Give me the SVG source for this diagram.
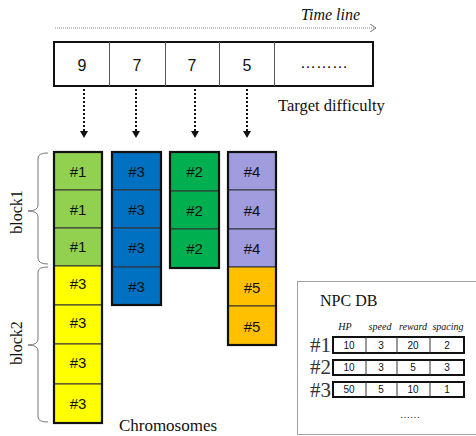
<svg xmlns="http://www.w3.org/2000/svg" width="476" height="436" viewBox="0 0 476 436">
<defs>
<style>
.ser{font-family:'Liberation Serif','DejaVu Serif',serif;fill:#111}
.san{font-family:'Liberation Sans',Arial,sans-serif;fill:#111}
.num{font-size:16px;text-anchor:middle}
.cell{stroke:#333;stroke-width:1}
.cnum{font-family:'Liberation Sans',Arial,sans-serif;font-size:15px;text-anchor:middle;fill:#111}
.outer{fill:none;stroke:#111;stroke-width:2.2}
.dotarrow{stroke:#111;stroke-width:2;stroke-dasharray:2 2;fill:none}
.brace{fill:none;stroke:#777;stroke-width:1}
.hdr{font-family:'Liberation Serif','DejaVu Serif',serif;font-style:italic;font-size:10px;text-anchor:middle;fill:#111}
.tv{font-family:'Liberation Sans',Arial,sans-serif;font-size:10px;text-anchor:middle;fill:#111}
.rowl{font-family:'Liberation Serif','DejaVu Serif',serif;font-size:21px;fill:#333}
</style>
<marker id="ah" markerWidth="8" markerHeight="8" refX="6" refY="4" orient="auto" markerUnits="userSpaceOnUse">
<path d="M0,0 L6,4 L0,8" fill="none" stroke="#777" stroke-width="1"/>
</marker>
</defs>
<rect width="476" height="436" fill="#fff"/>

<g id="timeline">
<line x1="55" y1="28" x2="376" y2="28" stroke="#888" stroke-width="1" stroke-dasharray="1 1" marker-end="url(#ah)"/>
<text x="301" y="20" class="ser" font-size="16" font-style="italic">Time line</text>
</g>

<g id="target-difficulty">
<rect x="54" y="42" width="319" height="44" fill="#fff" stroke="#111" stroke-width="2"/>
<line x1="109.5" y1="42" x2="109.5" y2="86" stroke="#555"/>
<line x1="165.5" y1="42" x2="165.5" y2="86" stroke="#555"/>
<line x1="219.5" y1="42" x2="219.5" y2="86" stroke="#555"/>
<line x1="274.5" y1="42" x2="274.5" y2="86" stroke="#555"/>
<text x="82" y="71" class="san num">9</text>
<text x="137" y="71" class="san num">7</text>
<text x="192" y="71" class="san num">7</text>
<text x="247" y="71" class="san num">5</text>
<text x="324" y="68" class="san num">………</text>
<text x="278" y="111" class="ser" font-size="16.5">Target difficulty</text>
</g>

<g id="connectors">
<line x1="84" y1="89" x2="84" y2="131" class="dotarrow"/>
<path d="M80,131 L88,131 L84,138 Z" fill="#111"/>
<line x1="136" y1="89" x2="136" y2="131" class="dotarrow"/>
<path d="M132,131 L140,131 L136,138 Z" fill="#111"/>
<line x1="195" y1="89" x2="195" y2="131" class="dotarrow"/>
<path d="M191,131 L199,131 L195,138 Z" fill="#111"/>
<line x1="247" y1="89" x2="247" y2="131" class="dotarrow"/>
<path d="M243,131 L251,131 L247,138 Z" fill="#111"/>
</g>

<g id="chromosome1">
<rect x="54" y="152" width="48" height="38" fill="#92D050" class="cell"/>
<rect x="54" y="190" width="48" height="38" fill="#92D050" class="cell"/>
<rect x="54" y="228" width="48" height="38" fill="#92D050" class="cell"/>
<rect x="54" y="266" width="48" height="39" fill="#FFFF00" class="cell"/>
<rect x="54" y="305" width="48" height="39" fill="#FFFF00" class="cell"/>
<rect x="54" y="344" width="48" height="40" fill="#FFFF00" class="cell"/>
<rect x="54" y="384" width="48" height="39" fill="#FFFF00" class="cell"/>
<rect x="54" y="152" width="48" height="271" class="outer"/>
<text x="78" y="177" class="cnum">#1</text>
<text x="78" y="215" class="cnum">#1</text>
<text x="78" y="252" class="cnum">#1</text>
<text x="78" y="289" class="cnum">#3</text>
<text x="78" y="328" class="cnum">#3</text>
<text x="78" y="368" class="cnum">#3</text>
<text x="78" y="409" class="cnum">#3</text>
</g>

<g id="chromosome2">
<rect x="112" y="152" width="49" height="38" fill="#0070C0" class="cell"/>
<rect x="112" y="190" width="49" height="38" fill="#0070C0" class="cell"/>
<rect x="112" y="228" width="49" height="39" fill="#0070C0" class="cell"/>
<rect x="112" y="267" width="49" height="38" fill="#0070C0" class="cell"/>
<rect x="112" y="152" width="49" height="153" class="outer"/>
<text x="136.5" y="177" class="cnum">#3</text>
<text x="136.5" y="215" class="cnum">#3</text>
<text x="136.5" y="253" class="cnum">#3</text>
<text x="136.5" y="292" class="cnum">#3</text>
</g>

<g id="chromosome3">
<rect x="170" y="152" width="49" height="39" fill="#00B050" class="cell"/>
<rect x="170" y="191" width="49" height="38" fill="#00B050" class="cell"/>
<rect x="170" y="229" width="49" height="39" fill="#00B050" class="cell"/>
<rect x="170" y="152" width="49" height="116" class="outer"/>
<text x="194.5" y="177" class="cnum">#2</text>
<text x="194.5" y="216" class="cnum">#2</text>
<text x="194.5" y="254" class="cnum">#2</text>
</g>

<g id="chromosome4">
<rect x="228" y="152" width="48" height="38" fill="#A09CDE" class="cell"/>
<rect x="228" y="190" width="48" height="39" fill="#A09CDE" class="cell"/>
<rect x="228" y="229" width="48" height="38" fill="#A09CDE" class="cell"/>
<rect x="228" y="267" width="48" height="39" fill="#FFC000" class="cell"/>
<rect x="228" y="306" width="48" height="39" fill="#FFC000" class="cell"/>
<rect x="228" y="152" width="48" height="193" class="outer"/>
<text x="252" y="177" class="cnum">#4</text>
<text x="252" y="216" class="cnum">#4</text>
<text x="252" y="254" class="cnum">#4</text>
<text x="252" y="293" class="cnum">#5</text>
<text x="252" y="332" class="cnum">#5</text>
</g>

<g id="block1">
<path d="M48,153 Q38,153 38,158 L38,205 Q38,211 28,211 Q38,211 38,217 L38,258 Q38,264 48,264" class="brace"/>
<text transform="translate(22,212) rotate(-90)" class="ser" font-size="16" text-anchor="middle">block1</text>
</g>

<g id="block2">
<path d="M48,267 Q38,267 38,272 L38,339 Q38,345 28,345 Q38,345 38,351 L38,417 Q38,422 48,422" class="brace"/>
<text transform="translate(22,343) rotate(-90)" class="ser" font-size="16" text-anchor="middle">block2</text>
</g>

<g id="chromosomes-label">
<text x="168" y="431" class="ser" font-size="17" text-anchor="middle">Chromosomes</text>
</g>

<g id="npc-db">
<rect x="297.5" y="281.5" width="200" height="153" fill="none" stroke="#444" stroke-width="1" stroke-dasharray="1 1"/>
<text x="320" y="306" class="ser" font-size="16">NPC DB</text>
<text x="345" y="330" class="hdr">HP</text>
<text x="380" y="330" class="hdr">speed</text>
<text x="413" y="330" class="hdr">reward</text>
<text x="448" y="330" class="hdr">spacing</text>
<text x="310" y="352" class="rowl">#1</text>
<text x="310" y="374" class="rowl">#2</text>
<text x="310" y="397" class="rowl">#3</text>
<g stroke="#111" fill="#fff">
<rect x="333" y="337" width="131" height="16" stroke-width="2"/>
<rect x="333" y="360" width="131" height="15" stroke-width="2"/>
<rect x="333" y="382" width="131" height="15" stroke-width="2"/>
</g>
<g stroke="#333" stroke-width="1">
<line x1="366" y1="337" x2="366" y2="353"/>
<line x1="397" y1="337" x2="397" y2="353"/>
<line x1="430" y1="337" x2="430" y2="353"/>
<line x1="366" y1="360" x2="366" y2="375"/>
<line x1="397" y1="360" x2="397" y2="375"/>
<line x1="430" y1="360" x2="430" y2="375"/>
<line x1="366" y1="382" x2="366" y2="397"/>
<line x1="397" y1="382" x2="397" y2="397"/>
<line x1="430" y1="382" x2="430" y2="397"/>
</g>
<text x="349" y="349" class="tv">10</text>
<text x="381" y="349" class="tv">3</text>
<text x="413" y="349" class="tv">20</text>
<text x="447" y="349" class="tv">2</text>
<text x="349" y="371" class="tv">10</text>
<text x="381" y="371" class="tv">3</text>
<text x="413" y="371" class="tv">5</text>
<text x="447" y="371" class="tv">3</text>
<text x="349" y="393" class="tv">50</text>
<text x="381" y="393" class="tv">5</text>
<text x="413" y="393" class="tv">10</text>
<text x="447" y="393" class="tv">1</text>
<text x="410" y="418" class="ser" font-size="10" text-anchor="middle">……</text>
</g>
</svg>
